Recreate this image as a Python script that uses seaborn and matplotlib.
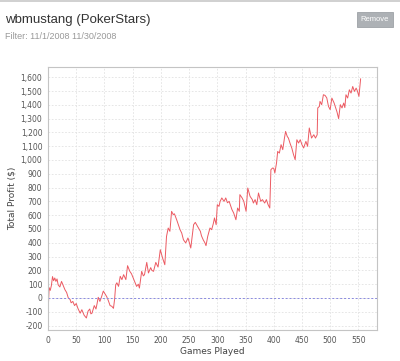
import matplotlib
matplotlib.use("Agg")
import matplotlib.pyplot as plt
import matplotlib.ticker as mticker
from matplotlib.patches import Rectangle
import seaborn as sns
import pandas as pd

# valores (vértices da curva)
games = [0, 1, 2, 4, 6, 8, 10, 12, 14, 16, 18, 21, 24, 27, 30, 33, 36, 39, 41, 44,
         47, 50, 53, 57, 60, 64, 68, 71, 74, 76, 78, 82, 85, 87, 89, 92, 95, 98, 101, 104,
         107, 110, 113, 116, 118, 120, 122, 125, 128, 131, 134, 138, 141, 145, 148, 151, 154, 157, 160, 162,
         166, 169, 171, 175, 178, 182, 184, 187, 191, 195, 199, 203, 207, 210, 213, 216, 219, 222, 224, 228,
         231, 234, 237, 240, 244, 248, 251, 253, 258, 261, 265, 270, 272, 275, 278, 280, 283, 287, 290, 293,
         295, 298, 300, 303, 305, 308, 312, 315, 318, 321, 324, 326, 329, 333, 336, 339, 340, 344, 347, 351,
         354, 358, 362, 364, 367, 370, 373, 377, 380, 384, 387, 390, 393, 395, 398, 400, 402, 405, 407, 410,
         413, 416, 419, 421, 424, 426, 429, 432, 435, 438, 441, 444, 447, 450, 453, 457, 460, 463, 467, 471,
         474, 477, 478, 481, 482, 485, 488, 491, 494, 497, 500, 503, 507, 512, 515, 518, 521, 524, 526, 528,
         531, 534, 537, 540, 543, 546, 548, 551, 554]
profit = [0, -25, 75, 55, 90, 155, 125, 145, 120, 138, 95, 80, 120, 90, 60, 40, 0, -10, -35, -25,
          -55, -40, -75, -110, -85, -125, -145, -95, -80, -115, -110, -55, -80, -40, 5, -25, 10, 50, 30, 10,
          -20, -55, -60, -75, -10, 96, 110, 84, 157, 133, 169, 133, 234, 193, 175, 145, 115, 84, 100, 72,
          193, 160, 169, 258, 181, 220, 200, 193, 258, 224, 350, 290, 241, 446, 507, 483, 628, 604, 610, 567,
          530, 495, 470, 422, 399, 435, 394, 362, 531, 548, 519, 483, 450, 422, 400, 379, 446, 507, 495, 540,
          580, 531, 676, 664, 700, 725, 700, 725, 690, 700, 664, 640, 616, 567, 652, 628, 749, 725, 700, 628,
          797, 737, 713, 688, 713, 676, 761, 700, 713, 688, 713, 676, 652, 930, 942, 940, 906, 980, 1062, 1050,
          1111, 1075, 1159, 1207, 1170, 1159, 1120, 1087, 1040, 1002, 1147, 1123, 1147, 1111, 1087, 1135, 1099, 1232, 1159, 1183,
          1159, 1183, 1377, 1389, 1425, 1401, 1473, 1468, 1450, 1389, 1365, 1449, 1413, 1350, 1300, 1401, 1377, 1413, 1380, 1473,
          1449, 1509, 1485, 1533, 1497, 1521, 1503, 1461, 1589]

xticks = list(range(0, 551, 50))
yticks = list(range(-200, 1601, 100))

df = pd.DataFrame({'Games Played': games, 'Total Profit ($)': profit})

sns.set_style("whitegrid")
plt.rcParams['font.family'] = ['DejaVu Sans']

fig = plt.figure(figsize=(4.0, 3.61), dpi=100)
ax = fig.add_axes([0.12, 0.0859, 0.8225, 0.7285])

sns.lineplot(data=df, x='Games Played', y='Total Profit ($)', ax=ax,
             color='#ec5a62', linewidth=0.7)
ax.axhline(0, color='#8a8ae0', linestyle=(0, (2, 2)), linewidth=0.7)

ax.set_xlim(0, 583)
ax.set_ylim(-232, 1674)
ax.set_xticks(xticks)
ax.set_yticks(yticks)
ax.yaxis.set_major_formatter(mticker.FuncFormatter(lambda v, p: f'{int(v):,}'))

ax.grid(True, color='#e2e2e2', linestyle=(0, (2, 2)), linewidth=0.6)
for s in ax.spines.values():
    s.set_color('#c4c4c4')
    s.set_linewidth(0.8)

ax.tick_params(axis='both', labelsize=5.5, labelcolor='#555555', length=2,
               width=0.5, color='#888888', pad=2)
ax.set_xlabel('Games Played', fontsize=6.5, color='#444444', labelpad=2)
ax.set_ylabel('Total Profit ($)', fontsize=6.5, color='#444444', labelpad=3)

# cabeçalho
fig.add_artist(plt.Line2D([0, 1], [0.997, 0.997], color='#c8c8c8', linewidth=1.2))
fig.text(0.0125, 0.945, 'wbmustang (PokerStars)', fontsize=9.5, color='#333333',
         family='Liberation Sans', va='center', ha='left')
fig.text(0.0125, 0.9, 'Filter: 11/1/2008 11/30/2008', fontsize=6.5, color='#999999',
         family='Liberation Sans', va='center', ha='left')
fig.add_artist(Rectangle((0.8925, 0.925), 0.09, 0.0416, transform=fig.transFigure,
                         facecolor='#adb1b5', edgecolor='#9ea2a6', linewidth=0.6))
fig.text(0.9375, 0.946, 'Remove', fontsize=5.5, color='white',
         family='Liberation Sans', va='center', ha='center')

fig.savefig('out.png', dpi=100)
